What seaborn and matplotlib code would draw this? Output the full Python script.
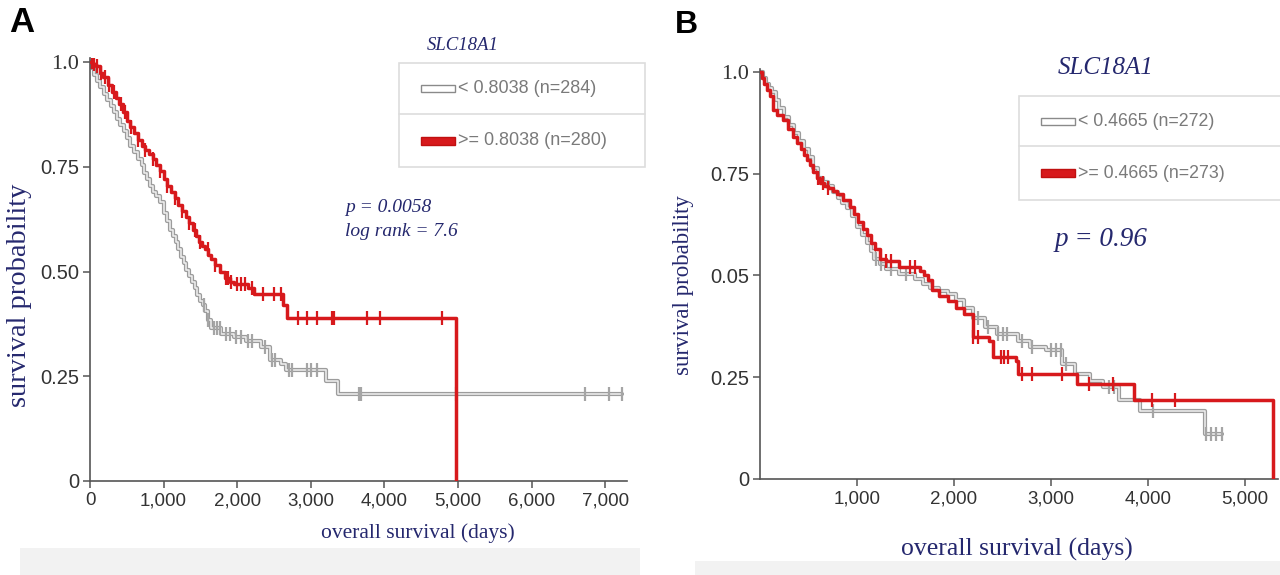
import numpy as np
import pandas as pd
import matplotlib
matplotlib.use("Agg")
import matplotlib.pyplot as plt
from matplotlib.patches import Rectangle
import seaborn as sns

# ---------------- data ----------------
# Panel A (SLC18A1, cutoff 0.8038)
a_low_t = [0, 30, 60, 100, 140, 190, 230, 280, 320, 370, 410, 460, 500, 550, 600, 650, 700,
           740, 780, 820, 860, 900, 950, 1000, 1050, 1090, 1130, 1170, 1200, 1240, 1280, 1310,
           1340, 1380, 1420, 1460, 1500, 1530, 1560, 1600, 1640, 1780, 1950, 2120, 2330, 2440,
           2600, 2660, 3200, 3370, 7230]
a_low_s = [1.0, 0.985, 0.97, 0.955, 0.94, 0.925, 0.91, 0.895, 0.88, 0.865, 0.85, 0.835, 0.82,
           0.80, 0.785, 0.77, 0.755, 0.735, 0.72, 0.705, 0.69, 0.68, 0.665, 0.64, 0.62, 0.60,
           0.585, 0.57, 0.555, 0.535, 0.52, 0.505, 0.49, 0.475, 0.46, 0.445, 0.43, 0.42, 0.405,
           0.385, 0.365, 0.352, 0.344, 0.335, 0.32, 0.29, 0.28, 0.266, 0.238, 0.207, 0.207]
a_low_cens = [1550, 1600, 1680, 1720, 1760, 1850, 1900, 1980, 2050, 2150, 2200, 2380, 2470,
              2520, 2700, 2750, 2950, 3000, 3080, 3650, 3680, 4970, 6720, 7050, 7230]

a_high_t = [0, 40, 80, 130, 180, 240, 300, 350, 400, 450, 500, 550, 600, 650, 700, 750, 800,
            850, 900, 950, 1000, 1050, 1100, 1150, 1200, 1250, 1300, 1350, 1400, 1440, 1480,
            1520, 1560, 1610, 1650, 1700, 1760, 1830, 1900, 1950, 2150, 2230, 2620, 2680, 4970]
a_high_s = [1.0, 0.995, 0.99, 0.975, 0.965, 0.945, 0.93, 0.915, 0.90, 0.88, 0.86, 0.845, 0.83,
            0.815, 0.80, 0.79, 0.78, 0.77, 0.755, 0.74, 0.72, 0.705, 0.69, 0.675, 0.66, 0.645,
            0.63, 0.615, 0.60, 0.585, 0.57, 0.56, 0.555, 0.54, 0.53, 0.515, 0.50, 0.485, 0.475,
            0.47, 0.46, 0.447, 0.42, 0.39, 0.0]
a_high_cens = [30, 60, 100, 150, 200, 260, 330, 420, 480, 560, 650, 750, 850, 950, 1050,
               1150, 1250, 1350, 1420, 1500, 1600, 1700, 1850, 1880, 1920, 2000, 2050, 2100,
               2200, 2350, 2500, 2600, 2830, 2950, 3080, 3290, 3310, 3760, 3940, 4780]

# Panel B (SLC18A1, cutoff 0.4665)
b_low_t = [0, 30, 60, 90, 120, 160, 200, 250, 300, 350, 400, 450, 500, 550, 600, 650, 700,
           750, 800, 850, 900, 950, 1000, 1050, 1100, 1140, 1180, 1240, 1300, 1434, 1600, 1680,
           1750, 1850, 1939, 2020, 2108, 2200, 2318, 2444, 2655, 2781, 2949, 3118, 3244, 3400,
           3538, 3706, 3917, 4590, 4760]
b_low_s = [1.0, 0.985, 0.97, 0.96, 0.95, 0.93, 0.91, 0.89, 0.87, 0.85, 0.83, 0.81, 0.79, 0.765,
           0.74, 0.73, 0.72, 0.705, 0.69, 0.677, 0.665, 0.645, 0.62, 0.60, 0.58, 0.56, 0.54,
           0.527, 0.515, 0.504, 0.49, 0.48, 0.47, 0.462, 0.455, 0.44, 0.42, 0.395, 0.373, 0.357,
           0.34, 0.324, 0.316, 0.283, 0.258, 0.24, 0.225, 0.193, 0.168, 0.11, 0.11]
b_low_cens = [1200, 1250, 1350, 1500, 2250, 2350, 2450, 2500, 2550, 2700, 2800, 3000, 3050,
              3100, 3150, 3600, 3650, 4050, 4600, 4650, 4700, 4760]

b_high_t = [0, 20, 40, 70, 100, 134, 180, 237, 290, 340, 380, 420, 450, 485, 520, 550, 590,
            619, 660, 700, 750, 794, 860, 928, 970, 1014, 1060, 1103, 1140, 1182, 1237, 1300,
            1434, 1645, 1690, 1730, 1771, 1850, 1939, 2020, 2108, 2192, 2360, 2402, 2634, 2655,
            3265, 3854, 5290]
b_high_s = [1.0, 0.985, 0.97, 0.955, 0.94, 0.907, 0.895, 0.882, 0.86, 0.84, 0.825, 0.81, 0.797,
            0.784, 0.77, 0.755, 0.74, 0.727, 0.72, 0.715, 0.708, 0.70, 0.685, 0.668, 0.65, 0.63,
            0.615, 0.60, 0.58, 0.565, 0.54, 0.535, 0.52, 0.51, 0.50, 0.488, 0.463, 0.45, 0.438,
            0.42, 0.406, 0.348, 0.34, 0.30, 0.29, 0.258, 0.234, 0.193, 0.0]
b_high_cens = [600, 650, 700, 1300, 1350, 1550, 1600, 2200, 2250, 2480, 2520, 2560, 2697,
               2802, 3118, 3391, 3643, 4043, 4274]

a_xticks = [0, 1000, 2000, 3000, 4000, 5000, 6000, 7000]
a_xticklabels = ["0", "1,000", "2,000", "3,000", "4,000", "5,000", "6,000", "7,000"]
b_xticks = [1000, 2000, 3000, 4000, 5000]
b_xticklabels = ["1,000", "2,000", "3,000", "4,000", "5,000"]
yticks = [0, 0.25, 0.5, 0.75, 1.0]
a_yticklabels = ["0", "0.25", "0.50", "0.75", "1.0"]
b_yticklabels = ["0", "0.25", "0.05", "0.75", "1.0"]

a_labels = ["< 0.8038 (n=284)", ">= 0.8038 (n=280)"]
b_labels = ["< 0.4665 (n=272)", ">= 0.4665 (n=273)"]
gene = "SLC18A1"

# ---------------- style ----------------
sns.set_theme(style="white")
plt.rcParams["font.family"] = ["Liberation Sans", "DejaVu Sans"]

W, H = 1280, 575
fig = plt.figure(figsize=(W / 100, H / 100), dpi=100)
fig.patch.set_facecolor("white")

NAVY = "#25286e"
RED = "#d7191c"
SERIF = ["Liberation Serif", "DejaVu Serif"]


def px_axes(left, top, right, bottom):
    return fig.add_axes([left / W, 1 - bottom / H, (right - left) / W, (bottom - top) / H])


def lookup(t, s, x):
    t = np.asarray(t)
    s = np.asarray(s)
    idx = np.clip(np.searchsorted(t, x, side="right") - 1, 0, len(s) - 1)
    return s[idx]


def draw_km(ax, t, s, cens, kind):
    df = pd.DataFrame({"t": t, "s": s})
    cdf = pd.DataFrame({"t": cens, "s": lookup(t, s, np.asarray(cens))})
    if kind == "low":
        sns.lineplot(data=df, x="t", y="s", ax=ax, drawstyle="steps-post", sort=False,
                     estimator=None, color="#9c9c9c", linewidth=3.0, zorder=2)
        sns.lineplot(data=df, x="t", y="s", ax=ax, drawstyle="steps-post", sort=False,
                     estimator=None, color="#f0f0f0", linewidth=1.1, zorder=3)
        sns.scatterplot(data=cdf, x="t", y="s", ax=ax, marker="|", s=90, color="#a5a5a5",
                        linewidth=1.6, zorder=3)
    else:
        sns.lineplot(data=df, x="t", y="s", ax=ax, drawstyle="steps-post", sort=False,
                     estimator=None, color=RED, linewidth=2.5, zorder=4)
        sns.scatterplot(data=cdf, x="t", y="s", ax=ax, marker="|", s=110, color=RED,
                        linewidth=1.6, zorder=5)


def style_axes(ax, xmax, ymax, xticks, xlabels, ylabels):
    ax.set_xlim(0, xmax)
    ax.set_ylim(0, ymax)
    ax.set_facecolor("none")
    for sp in ["top", "right"]:
        ax.spines[sp].set_visible(False)
    for sp in ["left", "bottom"]:
        ax.spines[sp].set_color("#555555")
        ax.spines[sp].set_linewidth(1.2)
    ax.set_xticks(xticks)
    ax.set_xticklabels(xlabels, fontsize=13.5, color="#333333")
    ax.set_yticks(yticks)
    ax.set_yticklabels(ylabels, fontsize=14.5, color="#333333")
    for lab in ax.get_yticklabels():
        if lab.get_text() == "1.0":
            lab.set_family(SERIF)
            lab.set_fontsize(16)
    ax.tick_params(axis="both", direction="out", length=5, width=1.1, color="#555555",
                   left=True, bottom=True, pad=3)
    ax.set_xlabel("")
    ax.set_ylabel("")


# Panel A axes: x 0 at px 90 (73.6 px / 1000 days), y 0 at 481, 1.0 at 62
axA = px_axes(90, 58, 627, 481)
draw_km(axA, a_low_t, a_low_s, a_low_cens, "low")
draw_km(axA, a_high_t, a_high_s, a_high_cens, "high")
style_axes(axA, 7296, 1.01, a_xticks, a_xticklabels, a_yticklabels)

# Panel B axes: x 0 at px 760 (97 px / 1000 days), y 0 at 479, 1.0 at 72
axB = px_axes(760, 69, 1278, 479)
draw_km(axB, b_low_t, b_low_s, b_low_cens, "low")
draw_km(axB, b_high_t, b_high_s, b_high_cens, "high")
style_axes(axB, 5340, 1.007, b_xticks, b_xticklabels, b_yticklabels)

# ---------------- overlay (pixel coordinates) ----------------
ov = fig.add_axes([0, 0, 1, 1])
ov.set_xlim(0, W)
ov.set_ylim(H, 0)
ov.axis("off")
ov.set_facecolor("none")

# bottom grey bands
ov.add_patch(Rectangle((20, 548), 620, 30, facecolor="#f2f2f2", edgecolor="none", zorder=0))
ov.add_patch(Rectangle((695, 561), 585, 20, facecolor="#f2f2f2", edgecolor="none", zorder=0))

# panel letters
ov.text(9, 23, "A", fontsize=25, fontweight="bold", color="black", va="center", ha="left")
ov.text(675, 25, "B", fontsize=23, fontweight="bold", color="black", va="center", ha="left")

# axis labels
ov.text(20, 295, "survival probability", rotation=90, fontsize=20.5, family=SERIF,
        color=NAVY, ha="center", va="center")
ov.text(418, 533, "overall survival (days)", fontsize=15.5, family=SERIF, color=NAVY,
        ha="center", va="center")
ov.text(684, 285, "survival probability", rotation=90, fontsize=16.5, family=SERIF,
        color=NAVY, ha="center", va="center")
ov.text(1017, 549, "overall survival (days)", fontsize=18.5, family=SERIF, color=NAVY,
        ha="center", va="center")

# stats
ov.text(345, 207, "p = 0.0058", fontsize=14, family=SERIF, style="italic", color=NAVY,
        ha="left", va="center")
ov.text(345, 231, "log rank = 7.6", fontsize=14, family=SERIF, style="italic", color=NAVY,
        ha="left", va="center")
ov.text(1055, 240, "p = 0.96", fontsize=19.5, family=SERIF, style="italic", color=NAVY,
        ha="left", va="center")


def legend_box(x0, y0, x1, y1, ydiv, title_xy, title_size, labels, fs):
    ov.text(title_xy[0], title_xy[1], gene, fontsize=title_size, family=SERIF,
            style="italic", color=NAVY, ha="center", va="center")
    ov.add_patch(Rectangle((x0, y0), x1 - x0, y1 - y0, facecolor="white",
                           edgecolor="#dddddd", linewidth=1.2, zorder=5))
    ov.plot([x0, x1], [ydiv, ydiv], color="#dddddd", linewidth=1.2, zorder=6)
    yc = [(y0 + ydiv) / 2, (ydiv + y1) / 2]
    px0 = x0 + 22
    ov.add_patch(Rectangle((px0, yc[0] - 3.5), 34, 7, facecolor="white",
                           edgecolor="#8a8a8a", linewidth=1.0, zorder=7))
    ov.add_patch(Rectangle((px0, yc[1] - 4), 34, 8, facecolor=RED,
                           edgecolor="#c01010", linewidth=1.0, zorder=7))
    for yy, lab in zip(yc, labels):
        ov.text(px0 + 37, yy, lab, fontsize=fs, color="#7a7a7a", ha="left", va="center",
                zorder=8)


legend_box(399, 63, 645, 167, 114, (463, 45), 13.5, a_labels, 13)
legend_box(1019, 96, 1285, 200, 146, (1106, 68), 18, b_labels, 12.8)

fig.savefig("out.png", dpi=100, facecolor="white")
